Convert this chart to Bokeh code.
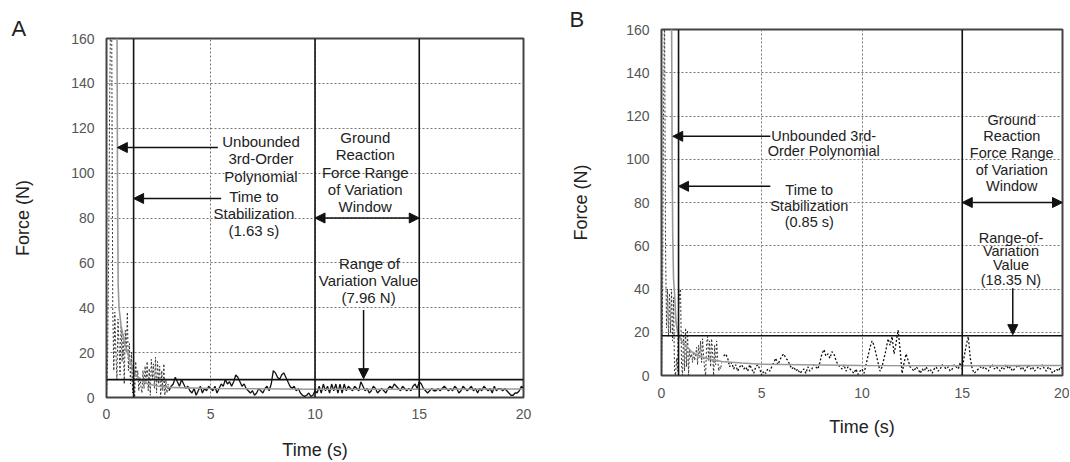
import numpy as np
from bokeh.plotting import figure
from bokeh.models import Arrow, NormalHead, Range1d, FixedTicker
from bokeh.core.properties import value
from bokeh.embed import file_html
from bokeh.resources import INLINE

FONT = "Liberation Sans"

# ---------------- shared axes ----------------
X_TICKS = [0, 5, 10, 15, 20]
Y_TICKS = [0, 20, 40, 60, 80, 100, 120, 140, 160]
X_MAX = 20
Y_MAX = 160

# ---------------- panel A data ----------------
A_t_early = np.round(np.arange(0, 3.0001, 0.05), 2)
A_force_early = [0, 15, 60, 130, 175, 165, 40, 12, 38, 20,
                 8, 35, 24, 10, 32, 16, 28, 6, 30, 20,
                 38, 12, 24, 6, 20, 2, 14, 0, 16, 8,
                 12, 3, 9, 5, 2, 12, 4, 14, 6, 16,
                 3, 13, 1, 17, 8, 15, 4, 18, 2, 16,
                 6, 14, 0, 12, 3, 15, 1, 8, 2, 6,
                 3]
A_t_main = np.round(np.arange(3.0, 20.0001, 0.1), 1)
A_force_main = [3, 5, 6, 9, 7, 5, 8, 6, 4, 5,
                3, 2, 4, 1, 3, 5, 2, 4, 3, 5,
                4, 3, 5, 2, 4, 6, 5, 8, 6, 7,
                5, 7, 10, 9, 7, 5, 6, 4, 3, 2,
                3, 1, 2, 4, 3, 2, 4, 5, 3, 6,
                12, 11, 9, 8, 10, 11, 9, 7, 5, 4,
                5, 3, 4, 2, 1, 0.5, 1, 2, 0.5, 1,
                3, 2, 5, 2, 6, 3, 5, 2, 6, 3,
                6, 2, 6, 2, 6, 3, 5, 4, 3, 5,
                4, 3, 7, 5, 3, 4, 2, 3, 5, 4,
                2, 3, 4, 3, 2, 4, 5, 4, 6, 5,
                4, 3, 5, 4, 3, 4, 3, 5, 6, 4,
                7, 6, 4, 3, 2, 3, 4, 3, 3, 4,
                3, 4, 5, 4, 3, 4, 3, 5, 4, 2,
                3, 5, 4, 3, 4, 5, 3, 4, 2, 4,
                3, 5, 4, 3, 4, 2, 5, 3, 4, 4,
                3, 4, 3, 2, 1, 1, 2, 2, 3, 5,
                4]
A_poly_t = [0.5, 0.53, 0.56, 0.6, 0.7, 0.85, 1.0, 1.2, 1.4, 1.7, 2.0, 2.5, 3.0, 5, 10, 15, 20]
A_poly_f = [175, 90, 50, 40, 32, 25, 20, 14, 10, 7.5, 6, 5, 4.5, 4, 3.7, 3.7, 3.8]
A_markers = [1.3, 10, 15]
A_rov = 7.96

# ---------------- panel B data ----------------
B_t_early = np.round(np.arange(0, 3.0001, 0.05), 2)
B_force_early = [0, 30, 120, 175, 60, 22, 40, 18, 38, 20,
                 40, 16, 36, 2, 0, 8, 2, 30, 38, 40,
                 5, 0, 20, 2, 22, 4, 21, 0, 12, 8,
                 10, 6, 11, 7, 9, 13, 5, 14, 8, 16,
                 6, 17, 9, 3, 0, 15, 18, 7, 16, 4,
                 17, 10, 0, 14, 5, 16, 8, 2, 4, 3,
                 6]
B_t_main = np.round(np.arange(3.1, 20.0001, 0.1), 1)
B_force_main = [9, 10, 8, 4, 6, 3, 5, 2, 4,
                5, 3, 4, 2, 5, 3, 1, 4, 5, 3,
                0, 2, 1, 3, 2, 4, 6, 8, 5, 7,
                9, 10, 8, 7, 5, 3, 4, 2, 3, 1,
                2, 3, 1, 4, 2, 3, 5, 4, 3, 6,
                10, 12, 9, 10, 8, 11, 10, 7, 5, 4,
                3, 5, 2, 4, 3, 2, 1, 3, 0.5, 2,
                3, 1, 5, 9, 13, 16, 14, 10, 6, 2,
                4, 8, 12, 17, 14, 18, 10, 15, 21, 12,
                1, 6, 10, 7, 4, 3, 2, 4, 3, 1,
                3, 2, 4, 2, 3, 1, 3, 4, 2, 3,
                5, 4, 3, 4, 2, 3, 5, 4, 3, 6,
                3, 9, 14, 18, 8, 3, 1, 2, 3, 4,
                3, 4, 3, 2, 4, 5, 3, 4, 3, 2,
                4, 3, 5, 3, 4, 2, 3, 4, 5, 3,
                4, 2, 3, 5, 3, 4, 2, 3, 4, 3,
                5, 3, 2, 4, 3, 1, 2, 3, 2, 4,
                3]
B_poly_t = [0.5, 0.53, 0.56, 0.6, 0.65, 0.72, 0.8, 1.0, 1.5, 2.0, 2.5, 3.0, 4.0, 5.0, 10, 15, 20]
B_poly_f = [175, 100, 65, 45, 38, 25, 20, 16, 11, 8.5, 7.4, 6.5, 5.8, 5.2, 4.6, 4.5, 4.6]
B_markers = [0.85, 15]
B_rov = 18.35

# ---------------- annotation texts ----------------
A_texts = ["Unbounded", "3rd-Order", "Polynomial",
           "Time to", "Stabilization", "(1.63 s)",
           "Ground", "Reaction", "Force Range", "of Variation", "Window",
           "Range of", "Variation Value", "(7.96 N)"]
A_text_x = [7.41, 7.41, 7.41, 7.07, 7.07, 7.07,
            12.41, 12.41, 12.41, 12.41, 12.41, 12.61, 12.57, 12.57]
A_text_y = [114, 106.3, 98.7, 89.5, 82.1, 74.3,
            115.8, 108.1, 100.2, 92.5, 85.0, 59.8, 52.1, 44.5]
A_arrows = [  # x_start, y_start, x_end, y_end, double
    (5.34, 111.4, 0.52, 111.4, False),
    (5.50, 88.7, 1.3, 88.7, False),
    (10, 80, 15, 80, True),
    (12.33, 39, 12.33, 8.4, False),
]

B_texts = ["Unbounded 3rd-", "Order Polynomial",
           "Time to", "Stabilization", "(0.85 s)",
           "Ground", "Reaction", "Force Range", "of Variation", "Window",
           "Range-of-", "Variation", "Value", "(18.35 N)"]
B_text_x = [8.09, 8.09, 7.37, 7.37, 7.37,
            17.47, 17.47, 17.47, 17.47, 17.47, 17.43, 17.43, 17.43, 17.43]
B_text_y = [110.9, 103.7, 85.9, 78.2, 70.8,
            118.3, 110.6, 102.9, 95.2, 87.8, 63.5, 57.4, 50.9, 44.3]
B_arrows = [
    (5.43, 110.6, 0.56, 110.6, False),
    (5.43, 87.5, 0.85, 87.5, False),
    (15, 80, 20, 80, True),
    (17.52, 40.4, 17.52, 18.9, False),
]


def build(name, width, height, bl, br, bt, bb, xls, xas, yls, yas,
          t_early, f_early, t_main, f_main, early_dash, main_dash,
          poly_t, poly_f, markers, rov, texts, tx, ty, text_size, arrows,
          panel_label, title_offset, title_standoff):
    p = figure(name=name, width=width, height=height,
               x_range=Range1d(0, X_MAX), y_range=Range1d(0, Y_MAX),
               output_backend="svg", toolbar_location=None, title=panel_label,
               min_border_left=bl, min_border_right=br, min_border_top=bt, min_border_bottom=bb)
    p.background_fill_color = "white"
    p.border_fill_color = "white"
    p.outline_line_color = "#444"
    p.outline_line_width = 2
    p.outline_line_alpha = 1

    p.title.align = "left"
    p.title.offset = title_offset
    p.title.standoff = title_standoff
    p.title.text_font = FONT
    p.title.text_font_size = "22px"
    p.title.text_font_style = "normal"
    p.title.text_color = "#222"

    p.xaxis.ticker = FixedTicker(ticks=X_TICKS)
    p.yaxis.ticker = FixedTicker(ticks=Y_TICKS)
    p.xaxis.axis_label = "Time (s)"
    p.yaxis.axis_label = "Force (N)"
    for ax in (p.xaxis[0], p.yaxis[0]):
        ax.axis_line_color = None
        ax.major_tick_out = 0
        ax.major_tick_in = 0
        ax.minor_tick_out = 0
        ax.minor_tick_in = 0
        ax.major_label_text_font = FONT
        ax.major_label_text_font_size = "14px"
        ax.major_label_text_color = "#555"
        ax.axis_label_text_font = FONT
        ax.axis_label_text_font_size = "18px"
        ax.axis_label_text_font_style = "normal"
        ax.axis_label_text_color = "#222"
    p.xaxis.major_label_standoff = xls
    p.xaxis.axis_label_standoff = xas
    p.yaxis.major_label_standoff = yls
    p.yaxis.axis_label_standoff = yas

    for g in (p.xgrid[0], p.ygrid[0]):
        g.grid_line_color = "#777"
        g.grid_line_dash = "2 2"
        g.grid_line_width = 1

    # raw force traces
    p.line(t_early, f_early, line_color="#333", line_width=1, line_dash=early_dash)
    p.line(t_main, f_main, line_color="#111", line_width=1.3, line_dash=main_dash)
    # unbounded polynomial
    p.line(poly_t, poly_f, line_color="#999", line_width=1.6)
    # range-of-variation value line
    p.segment(x0=[0], y0=[rov], x1=[X_MAX], y1=[rov], line_color="#111", line_width=1.6)
    # vertical marker lines
    p.segment(x0=markers, y0=[0] * len(markers), x1=markers, y1=[Y_MAX] * len(markers),
              line_color="#111", line_width=1.6)

    p.text(x=tx, y=ty, text=texts, text_font=value(FONT), text_font_size=text_size,
           text_align="center", text_baseline="middle", text_color="#222")

    for xs, ys, xe, ye, dbl in arrows:
        head = NormalHead(size=10, fill_color="#111", line_color="#111")
        start = NormalHead(size=10, fill_color="#111", line_color="#111") if dbl else None
        p.add_layout(Arrow(x_start=xs, y_start=ys, x_end=xe, y_end=ye, end=head, start=start,
                           line_color="#111", line_width=1.5))
    return p


pA = build("panelA", 533, 462, 106, 10, 38, 64, 11, 18, 12, 35,
           A_t_early, A_force_early, A_t_main, A_force_main, "2 2", "solid",
           A_poly_t, A_poly_f, A_markers, A_rov, A_texts, A_text_x, A_text_y, "15px", A_arrows,
           "A", -95, -4)
pB = build("panelB", 536, 462, 128, 7, 29, 87, 12, 16, 12, 32,
           B_t_early, B_force_early, B_t_main, B_force_main, "2 2", "2 2",
           B_poly_t, B_poly_f, B_markers, B_rov, B_texts, B_text_x, B_text_y, "14.5px", B_arrows,
           "B", -92, -4)

TEMPLATE = """
{% block contents %}
<div style="display: flex; flex-direction: row; align-items: flex-start;">
{{ embed(roots[0]) }}
{{ embed(roots[1]) }}
</div>
{% endblock %}
"""

p = [pA, pB]
open("out.html", "w").write(file_html(p, INLINE, template=TEMPLATE))
